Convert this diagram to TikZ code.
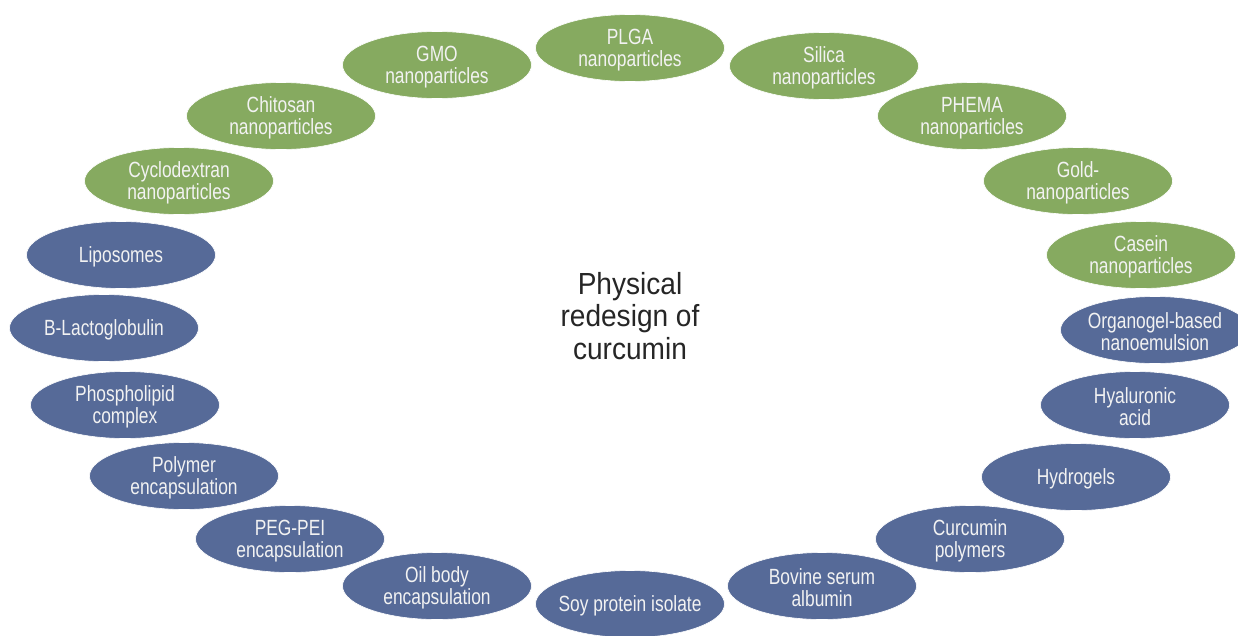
\documentclass[tikz,border=0pt]{standalone}
\usepackage{fontspec}
\setmainfont{Liberation Sans}
\newfontfamily\ellfont[FakeStretch=0.79]{Liberation Sans}
\newfontfamily\ctrfont[FakeStretch=0.92]{Liberation Sans}
\usetikzlibrary{shapes.geometric}
\definecolor{grn}{RGB}{134,170,96}
\definecolor{blu}{RGB}{86,106,152}
\definecolor{ink}{RGB}{38,38,38}
\tikzset{
  blob/.style={ellipse, minimum width=189pt, minimum height=67pt, inner sep=0pt, draw=white, line width=0.6pt},
  gblob/.style={blob, fill=grn},
  bblob/.style={blob, fill=blu},
  lbl/.style={text=white!95!black, align=center, inner sep=0pt, yshift=-2pt, font=\ellfont\fontsize{22}{22}\selectfont},
  ctr/.style={text=ink, align=center, inner sep=0pt, font=\ctrfont\fontsize{30.5}{32.5}\selectfont}
}
\begin{document}
\begin{tikzpicture}[x=1pt,y=-1pt]
\useasboundingbox (0,0) rectangle (1238,635);
\clip (0,0) rectangle (1238,635);
\fill[white] (0,0) rectangle (1238,635);
% green
\node[gblob, label={[lbl]center:PLGA\\nanoparticles}] (plga) at (630,48) {};
\node[gblob, label={[lbl]center:Silica\\nanoparticles}] (silica) at (824,66) {};
\node[gblob, label={[lbl]center:PHEMA\\nanoparticles}] (phema) at (972,116) {};
\node[gblob, label={[lbl]center:Gold-\\nanoparticles}] (gold) at (1078,181) {};
\node[gblob, label={[lbl]center:Casein\\nanoparticles}] (casein) at (1141,255) {};
\node[gblob, label={[lbl]center:Cyclodextran\\nanoparticles}] (cyclo) at (179,181) {};
\node[gblob, label={[lbl]center:Chitosan\\nanoparticles}] (chitosan) at (281,116) {};
\node[gblob, label={[lbl]center:GMO\\nanoparticles}] (gmo) at (437,65) {};
% blue
\node[bblob, label={[lbl]center:Organogel-based\\nanoemulsion}] (organo) at (1155,330) {};
\node[bblob, label={[lbl]center:Hyaluronic\\acid}] (hyal) at (1135,405) {};
\node[bblob, label={[lbl]center:Hydrogels}] (hydro) at (1076,477) {};
\node[bblob, label={[lbl]center:Curcumin\\polymers}] (curpol) at (970,539) {};
\node[bblob, label={[lbl]center:Bovine serum\\albumin}] (bsa) at (822,586) {};
\node[bblob, label={[lbl]center:Soy protein isolate}] (soy) at (630,604) {};
\node[bblob, label={[lbl]center:Oil body\\encapsulation}] (oil) at (437,586) {};
\node[bblob, label={[lbl]center:PEG-PEI\\encapsulation}] (pegpei) at (290,539) {};
\node[bblob, label={[lbl]center:Polymer\\encapsulation}] (polymer) at (184,476) {};
\node[bblob, label={[lbl]center:Phospholipid\\complex}] (phospho) at (125,405) {};
\node[bblob, label={[lbl]center:B-Lactoglobulin}] (blacto) at (104,328) {};
\node[bblob, label={[lbl]center:Liposomes}] (lipo) at (121,255) {};
% centre
\node[ctr] (title) at (630,316) {Physical\\redesign of\\curcumin};
\end{tikzpicture}
\end{document}
